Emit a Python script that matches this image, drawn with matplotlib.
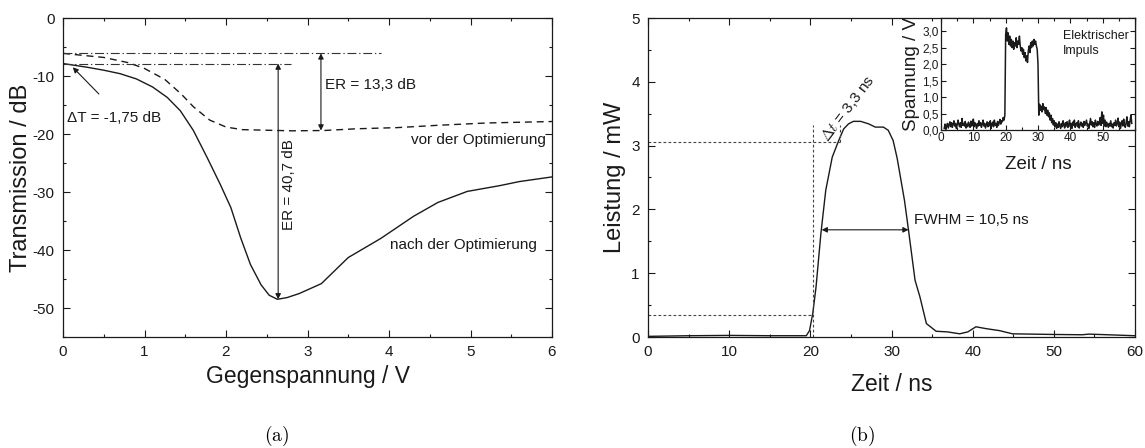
import numpy as np
import matplotlib
matplotlib.use('Agg')
import matplotlib.pyplot as plt
from matplotlib.ticker import MultipleLocator

plt.rcParams['font.family'] = ['Liberation Sans', 'DejaVu Sans']
plt.rcParams['mathtext.fontset'] = 'cm'
plt.rcParams['axes.unicode_minus'] = False

# (a) transmission vs. reverse bias
u_nach = [0, 0.3, 0.5, 0.7, 0.9, 1.1, 1.28, 1.44, 1.6, 1.77, 1.93, 2.06, 2.18, 2.3, 2.43,
          2.53, 2.63, 2.75, 2.9, 3.17, 3.5, 3.9, 4.3, 4.6, 4.96, 5.36, 5.6, 6.0]
t_nach = [-7.85, -8.5, -9.0, -9.6, -10.5, -11.9, -13.7, -16.0, -19.4, -24.1, -28.7, -32.7, -37.9,
          -42.5, -46.0, -47.8, -48.5, -48.2, -47.5, -45.8, -41.3, -38.0, -34.2, -31.8, -29.9,
          -28.9, -28.2, -27.4]
u_vor = [0, 0.5, 0.8, 1.0, 1.25, 1.45, 1.6, 1.8, 2.0, 2.2, 2.5, 2.8, 3.2, 3.6, 4.1, 4.6, 5.2, 6.0]
t_vor = [-6.1, -6.8, -7.7, -8.7, -10.6, -13.1, -15.3, -17.6, -18.8, -19.25, -19.35, -19.45,
         -19.4, -19.1, -18.9, -18.5, -18.1, -17.85]
ref_levels = [-6.1, -7.85]
ref_ends = [3.9, 2.8]

# (b) optical pulse
t_puls = [0, 5, 10, 15, 19.5, 19.9, 20.3, 20.7, 21.3, 21.9, 22.7, 23.5, 24.1, 24.7, 25.3, 26.2,
          27.2, 28.0, 29.0, 29.6, 30.2, 30.7, 31.6, 32.1, 32.9, 33.5, 34.3, 35.5, 36.9, 38.4,
          39.4, 40.4, 41.7, 43.3, 44.9, 49.8, 53.5, 54.3, 55.5, 60]
p_puls = [0.01, 0.02, 0.025, 0.02, 0.02, 0.10, 0.37, 0.78, 1.62, 2.30, 2.82, 3.08, 3.26, 3.34,
          3.38, 3.38, 3.34, 3.29, 3.29, 3.24, 3.08, 2.80, 2.14, 1.67, 0.89, 0.63, 0.21, 0.09,
          0.08, 0.05, 0.08, 0.16, 0.13, 0.10, 0.05, 0.04, 0.035, 0.045, 0.04, 0.02]
rise_t = [20.3, 23.6]
rise_levels = [0.35, 3.06]
fwhm_t = [21.4, 32.1]
fwhm_level = 1.68

# inset: electrical pulse, one value every 0.25 ns from 1 ns
v_el = [0.05, 0.18, 0.02, 0.12, 0.20, 0.06, 0.15, 0.25, 0.10, 0.22, 0.08, 0.17,
        0.28, 0.12, 0.20, 0.05, 0.15, 0.30, 0.18, 0.10, 0.22, 0.08, 0.35, 0.14,
        0.20, 0.12, 0.26, 0.06, 0.18, 0.10, 0.24, 0.15, 0.08, 0.27, 0.12, 0.20,
        0.33, 0.10, 0.22, 0.15, 0.05, 0.20, 0.12, 0.28, 0.14, 0.22, 0.08, 0.18,
        0.30, 0.12, 0.20, 0.06, 0.16, 0.25, 0.10, 0.22, 0.13, 0.28, 0.05, 0.18,
        0.24, 0.10, 0.30, 0.15, 0.20, 0.08, 0.26, 0.14, 0.22, 0.32, 0.18, 0.28,
        0.25, 0.38, 0.30, 0.45, 2.90, 3.10, 2.70, 2.95, 2.60, 2.85, 2.55, 2.75,
        2.50, 2.70, 2.45, 2.65, 2.55, 2.80, 2.50, 2.70, 2.60, 2.85, 2.55, 2.40,
        2.50, 2.30, 2.45, 2.20, 2.35, 2.10, 2.25, 2.05, 2.40, 2.55, 2.35, 2.65,
        2.50, 2.70, 2.55, 2.75, 2.60, 2.70, 2.55, 2.45, 2.00, 0.45, 0.78, 0.60,
        0.72, 0.55, 0.80, 0.62, 0.70, 0.50, 0.68, 0.45, 0.60, 0.40, 0.52, 0.30,
        0.45, 0.22, 0.35, 0.15, 0.28, 0.10, 0.22, 0.05, 0.18, 0.08, 0.25, 0.12,
        0.05, 0.20, 0.10, 0.28, 0.15, 0.06, 0.22, 0.12, 0.25, 0.08, 0.18, 0.30,
        0.10, 0.20, 0.05, 0.24, 0.14, 0.30, 0.08, 0.18, 0.22, 0.10, 0.28, 0.06,
        0.16, 0.24, 0.12, 0.20, 0.08, 0.26, 0.14, 0.22, 0.30, 0.12, 0.18, 0.05,
        0.20, 0.35, 0.15, 0.25, 0.10, 0.22, 0.08, 0.30, 0.18, 0.12, 0.26, 0.15,
        0.22, 0.38, 0.14, 0.55, 0.20, 0.45, 0.12, 0.30, 0.10, 0.24, 0.16, 0.08,
        0.20, 0.12, 0.28, 0.10, 0.18, 0.06, 0.22, 0.14, 0.30, 0.12, 0.20, 0.36,
        0.10, 0.24, 0.05, 0.18, 0.28, 0.12, 0.33, 0.15, 0.08, 0.22, 0.40, 0.12,
        0.25, 0.10, 0.30, 0.45, 0.20]
t_el = 1 + 0.25 * np.arange(len(v_el))
el_ticks = [0, 0.5, 1.0, 1.5, 2.0, 2.5, 3.0]
el_ticklabels = ['0,0', '0,5', '1,0', '1,5', '2,0', '2,5', '3,0']

ink = '#1a1a1a'


def style(ax, size, major=5, minor=2.5):
    for s in ax.spines.values():
        s.set_linewidth(0.9)
        s.set_color(ink)
    ax.tick_params(which='both', direction='in', top=True, right=True,
                   colors=ink, labelsize=size, width=0.8)
    ax.tick_params(which='major', length=major)
    ax.tick_params(which='minor', length=minor)


fig = plt.figure(figsize=(11.45, 4.48), dpi=100)
ax1 = fig.add_axes([63 / 1145, 111 / 448, 489 / 1145, 319 / 448])
ax2 = fig.add_axes([648 / 1145, 111 / 448, 487 / 1145, 319 / 448])
ax3 = fig.add_axes([941 / 1145, 318 / 448, 194 / 1145, 112 / 448])

arr = dict(arrowstyle='<|-|>', lw=0.8, color=ink, mutation_scale=8, shrinkA=0, shrinkB=0)

# ---- (a)
style(ax1, 11)
ax1.plot(u_nach, t_nach, color=ink, lw=1.0)
ax1.plot(u_vor, t_vor, color=ink, lw=1.0, dashes=(5, 3.5))
for lev, end in zip(ref_levels, ref_ends):
    ax1.plot([0, end], [lev, lev], color='#333', lw=0.8, dashes=(8, 2.5, 1.2, 2.5))
ax1.annotate('', xy=(2.64, ref_levels[1]), xytext=(2.64, min(t_nach)), arrowprops=arr)
ax1.annotate('', xy=(3.165, ref_levels[0]), xytext=(3.165, -19.4), arrowprops=arr)
ax1.annotate('', xy=(0.12, -8.5), xytext=(0.44, -13.1),
             arrowprops=dict(arrowstyle='-|>', lw=0.8, color=ink, mutation_scale=8,
                             shrinkA=0, shrinkB=0))
ax1.text(0.05, -17.3, 'ΔT = -1,75 dB', fontsize=11, va='center', ha='left', color=ink)
ax1.text(2.77, -28.8, 'ER = 40,7 dB', rotation=90, fontsize=11, ha='center', va='center', color=ink)
ax1.text(3.21, -11.5, 'ER = 13,3 dB', fontsize=11, ha='left', va='center', color=ink)
ax1.text(5.92, -21.0, 'vor der Optimierung', fontsize=11, ha='right', va='center', color=ink)
ax1.text(5.82, -39.2, 'nach der Optimierung', fontsize=11, ha='right', va='center', color=ink)
ax1.set_xlim(0, 6)
ax1.set_ylim(-55, 0)
ax1.xaxis.set_major_locator(MultipleLocator(1))
ax1.xaxis.set_minor_locator(MultipleLocator(0.5))
ax1.set_yticks([-50, -40, -30, -20, -10, 0])
ax1.yaxis.set_minor_locator(MultipleLocator(5))
ax1.tick_params(axis='x', pad=6)
ax1.tick_params(axis='y', pad=6)
ax1.set_xlabel('Gegenspannung / V', fontsize=16.5, labelpad=4, color=ink)
ax1.set_ylabel('Transmission / dB', fontsize=17, color=ink)
ax1.yaxis.set_label_coords(-0.0634, 0.5)

# ---- (b)
style(ax2, 11)
ax2.plot(t_puls, p_puls, color=ink, lw=1.0)
gd = dict(color='#444', lw=0.8, dashes=(2.5, 2))
ax2.plot([0, rise_t[0]], [rise_levels[0], rise_levels[0]], **gd)
ax2.plot([rise_t[0], rise_t[0]], [0, 3.32], **gd)
ax2.plot([0, rise_t[1]], [rise_levels[1], rise_levels[1]], **gd)
ax2.plot([rise_t[1], rise_t[1]], [rise_levels[1], 3.32], **gd)
ax2.annotate('', xy=(fwhm_t[0], fwhm_level), xytext=(fwhm_t[1], fwhm_level), arrowprops=arr)
ax2.text(32.8, 1.83, 'FWHM = 10,5 ns', fontsize=11, ha='left', va='center', color=ink)
ax2.text(24.6, 3.58, r'$\Delta t$ = 3,3 ns', rotation=53, fontsize=11, ha='center',
         va='center', rotation_mode='anchor', color=ink)
ax2.set_xlim(0, 60)
ax2.set_ylim(0, 5)
ax2.xaxis.set_major_locator(MultipleLocator(10))
ax2.xaxis.set_minor_locator(MultipleLocator(5))
ax2.yaxis.set_major_locator(MultipleLocator(1))
ax2.yaxis.set_minor_locator(MultipleLocator(0.5))
ax2.tick_params(axis='x', pad=6)
ax2.tick_params(axis='y', pad=6)
ax2.set_xlabel('Zeit / ns', fontsize=16.5, labelpad=10, color=ink)
ax2.set_ylabel('Leistung / mW', fontsize=17, color=ink)
ax2.yaxis.set_label_coords(-0.0452, 0.5)

# ---- inset
style(ax3, 8.5, major=3.5, minor=2)
ax3.plot(t_el, v_el, color=ink, lw=1.1)
ax3.text(37.6, 2.62, 'Elektrischer\nImpuls', fontsize=9, ha='left', va='center',
         linespacing=1.35, color=ink)
ax3.set_xlim(0, 60)
ax3.set_ylim(0, 3.4)
ax3.set_xticks([0, 10, 20, 30, 40, 50])
ax3.xaxis.set_minor_locator(MultipleLocator(5))
ax3.set_yticks(el_ticks)
ax3.set_yticklabels(el_ticklabels)
ax3.tick_params(axis='both', pad=1.5)
ax3.set_xlabel('Zeit / ns', fontsize=13.5, labelpad=8.5, color=ink)
ax3.set_ylabel('Spannung / V', fontsize=13.5, labelpad=2, color=ink)

fig.text(277 / 1145, 12 / 448, r'$\mathrm{(a)}$', fontsize=14, ha='center', va='center')
fig.text(862 / 1145, 12 / 448, r'$\mathrm{(b)}$', fontsize=14, ha='center', va='center')

fig.savefig('out.png', dpi=100)
